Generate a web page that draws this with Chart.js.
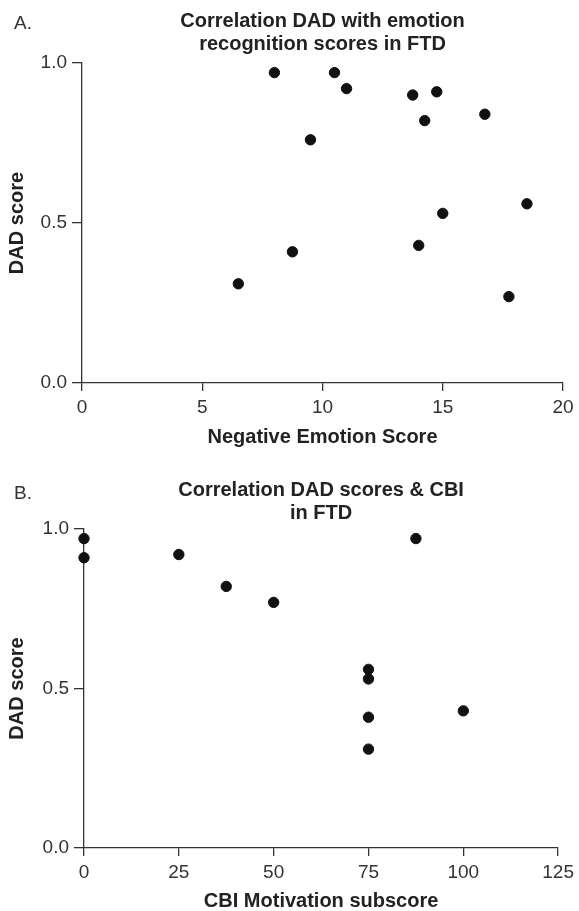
<!DOCTYPE html>
<html>
<head>
<meta charset="utf-8">
<script src="https://cdn.jsdelivr.net/npm/chart.js@4.4.1/dist/chart.umd.min.js"></script>
<style>
  body { margin: 0; background: #fff; }
  .panel { position: absolute; left: 0; width: 579px; }
  #panelA { top: 0; height: 455px; }
  #panelB { top: 455px; height: 456px; }
</style>
</head>
<body>
<div class="panel" id="panelA"><canvas id="chartA"></canvas></div>
<div class="panel" id="panelB"><canvas id="chartB"></canvas></div>
<script>
// Panel A: DAD vs negative emotion recognition
const negEmotionScore = [8, 10.5, 11, 9.5, 13.75, 14.75, 14.25, 16.75, 18.5, 15, 14, 8.75, 6.5, 17.75];
const dadScoreA = [0.97, 0.97, 0.92, 0.76, 0.90, 0.91, 0.82, 0.84, 0.56, 0.53, 0.43, 0.41, 0.31, 0.27];

// Panel B: DAD vs CBI motivation subscore
const cbiMotivation = [0, 0, 25, 37.5, 50, 87.5, 75, 75, 75, 75, 100];
const dadScoreB = [0.97, 0.91, 0.92, 0.82, 0.77, 0.97, 0.56, 0.53, 0.41, 0.31, 0.43];

const yTicks = [0, 0.5, 1.0];

Chart.defaults.font.family = '"Liberation Sans", Arial, sans-serif';
Chart.defaults.color = '#333';

const FONT = '"Liberation Sans", Arial, sans-serif';

// draws the two-line heading centred over the plot area, plus the panel letter
const panelHeading = {
    id: 'panelHeading',
    afterDraw(chart, args, opts) {
        const ctx = chart.ctx;
        const area = chart.chartArea;
        ctx.save();
        ctx.fillStyle = '#222';
        ctx.textBaseline = 'middle';
        ctx.textAlign = 'center';
        ctx.font = 'bold 20px ' + FONT;
        const cx = (area.left + area.right) / 2;
        opts.lines.forEach((line, i) => {
            ctx.fillText(line, cx, opts.top + i * 23);
        });
        ctx.textAlign = 'left';
        ctx.font = '19px ' + FONT;
        ctx.fillStyle = '#333';
        ctx.fillText(opts.letter, 14, opts.letterY);
        ctx.restore();
    }
};

function makeScatter(id, xs, ys, cfg) {
    const points = xs.map((x, i) => ({ x: x, y: ys[i] }));
    return new Chart(document.getElementById(id), {
        type: 'scatter',
        data: {
            datasets: [{
                data: points,
                backgroundColor: '#111',
                borderColor: '#111',
                pointRadius: 5.2,
                clip: false
            }]
        },
        options: {
            responsive: true,
            maintainAspectRatio: false,
            animation: false,
            layout: { padding: { top: cfg.top, left: 0, right: cfg.right, bottom: 0 } },
            plugins: {
                legend: { display: false },
                tooltip: { enabled: false },
                panelHeading: { lines: cfg.title, top: cfg.titleY, letter: cfg.letter, letterY: cfg.letterY }
            },
            scales: {
                x: {
                    type: 'linear',
                    min: 0,
                    max: cfg.xMax,
                    afterFit: (scale) => { scale.height = cfg.xHeight; },
                    border: { color: '#333', width: 1.3 },
                    grid: { drawOnChartArea: false, drawTicks: true, tickLength: 8, color: '#333', lineWidth: 1.3 },
                    ticks: {
                        stepSize: cfg.xStep,
                        padding: 5,
                        color: '#333',
                        font: { size: 19 },
                        maxRotation: 0
                    },
                    title: {
                        display: true,
                        text: cfg.xTitle,
                        color: '#222',
                        font: { size: 20, weight: 'bold', lineHeight: 1 },
                        padding: { top: 0, bottom: cfg.xTitlePad }
                    }
                },
                y: {
                    type: 'linear',
                    min: 0,
                    max: 1,
                    afterFit: (scale) => { scale.width = cfg.yWidth; },
                    afterBuildTicks: (scale) => { scale.ticks = yTicks.map(v => ({ value: v })); },
                    border: { color: '#333', width: 1.3 },
                    grid: { drawOnChartArea: false, drawTicks: true, tickLength: 10, color: '#333', lineWidth: 1.3 },
                    ticks: {
                        padding: 5,
                        color: '#333',
                        font: { size: 19 },
                        callback: (v) => v.toFixed(1)
                    },
                    title: {
                        display: true,
                        text: 'DAD score',
                        color: '#222',
                        font: { size: 20, weight: 'bold', lineHeight: 1 },
                        padding: { top: 7, bottom: 0 }
                    }
                }
            }
        },
        plugins: [panelHeading]
    });
}

makeScatter('chartA', negEmotionScore, dadScoreA, {
    top: 63, right: 16, xMax: 20, xStep: 5, xHeight: 72, yWidth: 82, xTitlePad: 8,
    xTitle: 'Negative Emotion Score',
    title: ['Correlation DAD with emotion', 'recognition scores in FTD'],
    titleY: 21, letter: 'A.', letterY: 24
});

makeScatter('chartB', cbiMotivation, dadScoreB, {
    top: 74, right: 18, xMax: 125, xStep: 25, xHeight: 63, yWidth: 84, xTitlePad: 0,
    xTitle: 'CBI Motivation subscore',
    title: ['Correlation DAD scores & CBI', 'in FTD'],
    titleY: 35, letter: 'B.', letterY: 39
});
</script>
</body>
</html>
